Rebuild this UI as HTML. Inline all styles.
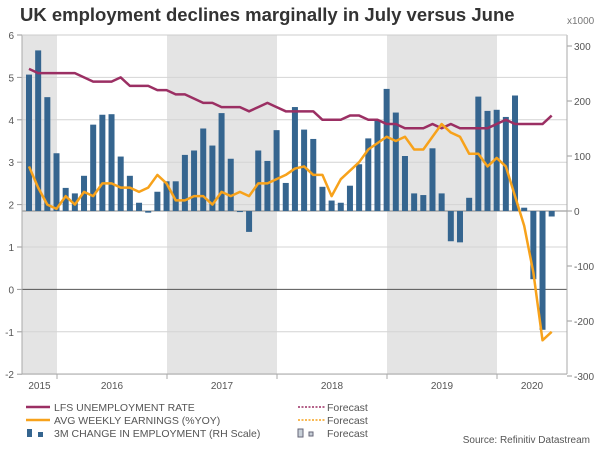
<!DOCTYPE html>
<html><head><meta charset="utf-8"><style>
body{margin:0;background:#fff;font-family:"Liberation Sans",Arial,sans-serif;}
svg{display:block}
</style></head><body>
<svg id="c" width="600" height="450">
<text x="20" y="21" font-size="18.5" font-weight="bold" fill="#333">UK employment declines marginally in July versus June</text>
<text x="567" y="24" font-size="10" fill="#777">x1000</text>
<g id="shade"></g><g id="grid"></g><g id="bars"></g><g id="lines"></g><g id="axes"></g><g id="legend"></g>
<text x="590" y="443" font-size="10" fill="#555" text-anchor="end">Source: Refinitiv Datastream</text>
</svg>
<script>
const years=["2015","2016","2017","2018","2019","2020"];
const leftTicks=[6,5,4,3,2,1,0,-1,-2];
const rightTicks=[300,200,100,0,-100,-200,-300];
const employment=[248,292,207,105,42,32,64,157,175,176,99,64,15,-3,35,54,54,102,110,150,119,178,95,-2,-38,110,91,147,51,189,148,131,44,19,15,46,85,132,165,222,179,100,32,29,114,32,-55,-57,24,208,182,184,171,210,6,-124,-216,-10];
const unemployment=[5.2,5.1,5.1,5.1,5.1,5.1,5.0,4.9,4.9,4.9,5.0,4.8,4.8,4.8,4.7,4.7,4.6,4.6,4.5,4.4,4.4,4.3,4.3,4.3,4.2,4.3,4.4,4.3,4.2,4.2,4.2,4.2,4.0,4.0,4.0,4.1,4.1,4.0,4.0,3.9,3.9,3.8,3.8,3.8,3.9,3.8,3.9,3.8,3.8,3.8,3.8,3.9,4.0,3.9,3.9,3.9,3.9,4.1];
const earnings=[2.9,2.4,2.0,1.9,2.2,2.0,2.3,2.2,2.5,2.5,2.4,2.4,2.3,2.4,2.7,2.5,2.1,2.1,2.2,2.2,2.0,2.3,2.2,2.3,2.2,2.5,2.5,2.6,2.7,2.85,2.9,2.7,2.7,2.2,2.6,2.8,3.0,3.3,3.45,3.6,3.5,3.6,3.3,3.3,3.6,3.9,3.7,3.6,3.2,3.2,2.9,3.1,2.9,2.2,1.5,0.4,-1.2,-1.0];
const NS="http://www.w3.org/2000/svg";
const X0=22,X1=567,Y0=35,Y1=374;
const xm=i=>29+9.17*i;
const yL=v=>35+(6-v)*42.4;
const yR=v=>211-v*0.55;
const yearStart=k=>57+110*(k-1);
function mk(tag,attrs,parent){const e=document.createElementNS(NS,tag);for(const k in attrs)e.setAttribute(k,attrs[k]);document.getElementById(parent).appendChild(e);return e;}
// shading
[[X0,57],[yearStart(2),yearStart(3)],[yearStart(4),yearStart(5)]].forEach((s,i)=>{
 const r=mk('rect',{x:s[0],y:Y0,width:s[1]-s[0],height:Y1-Y0,fill:'#e4e4e4'},'shade');
 
 
});
// grid + left ticks
leftTicks.forEach(v=>{
 const y=yL(v);
 const g=mk('line',{x1:X0,x2:X1,y1:y,y2:y,stroke:v===0?'#555':'#d4d4d4','stroke-width':1},'grid');
 
 
 mk('line',{x1:X0-5,x2:X0,y1:y,y2:y,stroke:'#999'},'axes');
 const t=mk('text',{x:14,y:y+4,'font-size':10,fill:'#555','text-anchor':'end'},'axes');t.textContent=v;
 
 
});
const z=mk('line',{x1:X0,x2:X1,y1:yR(0),y2:yR(0),stroke:'#888'},'grid');


rightTicks.forEach(v=>{
 const y=yR(v);
 mk('line',{x1:X1,x2:X1+5,y1:y,y2:y,stroke:'#999'},'axes');
 const t=mk('text',{x:X1+7,y:y+4,'font-size':10,fill:'#555'},'axes');t.textContent=(v<0?'-':'')+Math.abs(v);
 
 
});
mk('line',{x1:X0,x2:X0,y1:Y0,y2:Y1,stroke:'#aaa'},'axes');
mk('line',{x1:X1,x2:X1,y1:Y0,y2:Y1,stroke:'#aaa'},'axes');
mk('line',{x1:X0,x2:X1,y1:Y0,y2:Y0,stroke:'#ccc'},'axes');
mk('line',{x1:X0,x2:X1,y1:Y1,y2:Y1,stroke:'#aaa'},'axes');
years.forEach((yr,k)=>{
 const a=k===0?X0:yearStart(k), b=k===5?X1:yearStart(k+1);
 if(k>0)mk('line',{x1:a,x2:a,y1:Y1,y2:Y1+5,stroke:'#aaa'},'axes');
 const t=mk('text',{x:(a+b)/2,y:389,'font-size':10,fill:'#555','text-anchor':'middle'},'axes');t.textContent=yr;
 
 
});
// bars
employment.forEach((v,i)=>{
 const y0=yR(0),y=yR(v);
 const r=mk('rect',{x:xm(i)-3,y:Math.min(y,y0),width:6,height:Math.max(1,Math.abs(y-y0)),fill:'#35658f'},'bars');
 
 
});
function line(arr,col,name){
 const p=mk('polyline',{points:arr.map((v,i)=>xm(i)+','+yL(v)).join(' '),fill:'none',stroke:col,'stroke-width':2.5,'stroke-linejoin':'round'},'lines');
 
 
}
line(unemployment,'#9b2f63','unemployment-line');
line(earnings,'#f7a21b','earnings-line');
// legend
const L=[['LFS UNEMPLOYMENT RATE','#9b2f63'],['AVG WEEKLY EARNINGS  (%YOY)','#f7a21b'],['3M CHANGE IN EMPLOYMENT (RH Scale)','bar']];
L.forEach((l,i)=>{
 const y=407+13*i;
 if(l[1]==='bar'){mk('rect',{x:27,y:y-4,width:5,height:8,fill:'#35658f'},'legend');mk('rect',{x:38,y:y-1,width:5,height:5,fill:'#35658f'},'legend');
  mk('rect',{x:298,y:y-4,width:5,height:8,fill:'#c8d0d8',stroke:'#667'},'legend');mk('rect',{x:309,y:y-1,width:4,height:4,fill:'#c8d0d8',stroke:'#667'},'legend');}
 else{mk('line',{x1:26,x2:50,y1:y,y2:y,stroke:l[1],'stroke-width':2.5},'legend');
  mk('line',{x1:298,x2:325,y1:y,y2:y,stroke:l[1],'stroke-width':1.5,'stroke-dasharray':'2,1.5'},'legend');}
 const t=mk('text',{x:54,y:y+4,'font-size':10.5,fill:'#555'},'legend');t.textContent=l[0];
 
 
 const f=mk('text',{x:327,y:y+4,'font-size':10.5,fill:'#555'},'legend');f.textContent='Forecast';
 
 
});
</script>
</body></html>
